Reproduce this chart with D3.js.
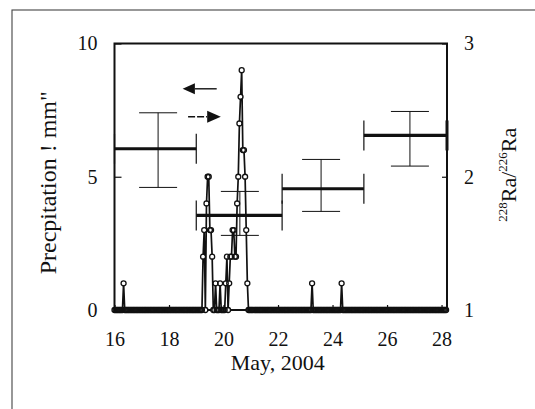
<!DOCTYPE html>
<html>
<head>
<meta charset="utf-8">
<script src="https://cdn.jsdelivr.net/npm/d3@7"></script>
<style>
  html, body { margin: 0; padding: 0; background: #fff; }
  svg { display: block; }
  text { font-family: "Liberation Serif", "Times New Roman", serif; fill: #111; }
</style>
</head>
<body>
<svg id="chart" width="535" height="409"></svg>
<script>
// Hourly precipitation (mm), starting May 16 00:00, one row per day
const rainStartDay = 16;
const rainHourly = [
  /* 16 */ 0,0,0,0,0,0,0,0,1,0,0,0,0,0,0,0,0,0,0,0,0,0,0,0,
  /* 17 */ 0,0,0,0,0,0,0,0,0,0,0,0,0,0,0,0,0,0,0,0,0,0,0,0,
  /* 18 */ 0,0,0,0,0,0,0,0,0,0,0,0,0,0,0,0,0,0,0,0,0,0,0,0,
  /* 19 */ 0,0,0,0,0,0,2,3,0,4,5,5,3,3,2,0,0,1,0,0,0,1,0,0,
  /* 20 */ 0,0,1,2,0,1,2,2,3,3,2,2,4,5,7,8,9,6,6,5,3,1,0,0,
  /* 21 */ 0,0,0,0,0,0,0,0,0,0,0,0,0,0,0,0,0,0,0,0,0,0,0,0,
  /* 22 */ 0,0,0,0,0,0,0,0,0,0,0,0,0,0,0,0,0,0,0,0,0,0,0,0,
  /* 23 */ 0,0,0,0,0,0,1,0,0,0,0,0,0,0,0,0,0,0,0,0,0,0,0,0,
  /* 24 */ 0,0,0,0,0,0,0,0,1,0,0,0,0,0,0,0,0,0,0,0,0,0,0,0,
  /* 25 */ 0,0,0,0,0,0,0,0,0,0,0,0,0,0,0,0,0,0,0,0,0,0,0,0,
  /* 26 */ 0,0,0,0,0,0,0,0,0,0,0,0,0,0,0,0,0,0,0,0,0,0,0,0,
  /* 27 */ 0,0,0,0,0,0,0,0,0,0,0,0,0,0,0,0,0,0,0,0,0,0,0,0,
  /* 28 */ 0,0,0,0,0
];

// 228Ra/226Ra activity ratio for each collection interval
const raStart = [16.0, 19.0, 22.15, 25.15];
const raEnd   = [19.0, 22.15, 25.15, 28.2];
const raRatio = [2.21, 1.71, 1.91, 2.31];
const raMid   = [17.6, 20.6, 23.58, 26.84];
const raHigh  = [2.48, 1.89, 2.13, 2.49];
const raLow   = [1.92, 1.56, 1.74, 2.08];

// Axis ticks
const dayTicks = [16, 18, 20, 22, 24, 26, 28];
const rainTicks = [0, 5, 10];
const ratioTicks = [1, 2, 3];

const xDomain = [16, 28.2];
const rainDomain = [0, 10];
const ratioDomain = [1, 3];

const FONT = '"Liberation Serif", "Times New Roman", serif';
const svg = d3.select("#chart");
const W = 535, H = 409;
const plot = { left: 114.5, right: 447, top: 43.5, bottom: 310 };

const x = d3.scaleLinear().domain(xDomain).range([plot.left, plot.right]);
const yRain = d3.scaleLinear().domain(rainDomain).range([plot.bottom, plot.top]);
const yRatio = d3.scaleLinear().domain(ratioDomain).range([plot.bottom, plot.top]);

// Page border
svg.append("rect")
  .attr("x", 12).attr("y", 10)
  .attr("width", W + 20).attr("height", H + 20)
  .attr("fill", "none").attr("stroke", "#444").attr("stroke-width", 1.1);

// Axes (ticks pointing inward)
const axisStyle = g => {
  g.attr("font-family", null);
  g.select(".domain").remove();
  g.selectAll("line").attr("stroke", "#111").attr("stroke-width", 1.2);
  g.selectAll("text").attr("font-size", 20).attr("fill", "#111")
    .style("font-family", FONT);
};

svg.append("g")
  .attr("transform", `translate(0,${plot.bottom})`)
  .call(d3.axisBottom(x).tickValues(dayTicks).tickFormat(d3.format("d"))
    .tickSizeInner(-5).tickSizeOuter(0).tickPadding(22))
  .call(axisStyle);

svg.append("g")
  .attr("transform", `translate(${plot.left},0)`)
  .call(d3.axisLeft(yRain).tickValues(rainTicks).tickFormat(d3.format("d"))
    .tickSizeInner(-7).tickSizeOuter(0).tickPadding(17))
  .call(axisStyle);

svg.append("g")
  .attr("transform", `translate(${plot.right},0)`)
  .call(d3.axisRight(yRatio).tickValues(ratioTicks).tickFormat(d3.format("d"))
    .tickSizeInner(-5).tickSizeOuter(0).tickPadding(17))
  .call(axisStyle);

// Plot frame
svg.append("rect")
  .attr("x", plot.left).attr("y", plot.top)
  .attr("width", plot.right - plot.left).attr("height", plot.bottom - plot.top)
  .attr("fill", "none").attr("stroke", "#111").attr("stroke-width", 2);

// Ra ratio: collection-interval bars with end marks and error bars
const ra = raStart.map((s, i) => ({
  s, e: raEnd[i], r: raRatio[i], m: raMid[i], hi: raHigh[i], lo: raLow[i]
}));
const gRa = svg.append("g").attr("stroke", "#111").attr("fill", "none");
const endHalf = 15, capHalf = 19;

gRa.selectAll(".bar").data(ra).join("line")
  .attr("x1", d => x(d.s)).attr("x2", d => x(d.e))
  .attr("y1", d => yRatio(d.r)).attr("y2", d => yRatio(d.r))
  .attr("stroke-width", 3.2);

gRa.selectAll(".endL").data(ra).join("line")
  .attr("x1", d => x(d.s)).attr("x2", d => x(d.s))
  .attr("y1", d => yRatio(d.r) - endHalf).attr("y2", d => yRatio(d.r) + endHalf)
  .attr("stroke-width", 1.2);

gRa.selectAll(".endR").data(ra).join("line")
  .attr("x1", d => x(d.e)).attr("x2", d => x(d.e))
  .attr("y1", d => yRatio(d.r) - endHalf).attr("y2", d => yRatio(d.r) + endHalf)
  .attr("stroke-width", d => d.e >= xDomain[1] ? 3 : 1.2);

gRa.selectAll(".err").data(ra).join("line")
  .attr("x1", d => x(d.m)).attr("x2", d => x(d.m))
  .attr("y1", d => yRatio(d.hi)).attr("y2", d => yRatio(d.lo))
  .attr("stroke-width", 1);

gRa.selectAll(".capHi").data(ra).join("line")
  .attr("x1", d => x(d.m) - capHalf).attr("x2", d => x(d.m) + capHalf)
  .attr("y1", d => yRatio(d.hi)).attr("y2", d => yRatio(d.hi))
  .attr("stroke-width", 1);

gRa.selectAll(".capLo").data(ra).join("line")
  .attr("x1", d => x(d.m) - capHalf).attr("x2", d => x(d.m) + capHalf)
  .attr("y1", d => yRatio(d.lo)).attr("y2", d => yRatio(d.lo))
  .attr("stroke-width", 1);

// Precipitation: line with open circles
const rain = rainHourly.map((v, i) => ({ t: rainStartDay + i / 24, v }));
svg.append("path")
  .datum(rain)
  .attr("fill", "none").attr("stroke", "#111").attr("stroke-width", 1.7)
  .attr("d", d3.line().x(d => x(d.t)).y(d => yRain(d.v)));

// white interiors hide the line inside each marker; rings are drawn on top
const gMarks = svg.append("g");
gMarks.selectAll(".fill").data(rain).join("circle")
  .attr("cx", d => x(d.t)).attr("cy", d => yRain(d.v))
  .attr("r", 2.0).attr("fill", "#fff");
gMarks.selectAll(".ring").data(rain).join("circle")
  .attr("cx", d => x(d.t)).attr("cy", d => yRain(d.v))
  .attr("r", 2.5)
  .attr("fill", "none").attr("stroke", "#111").attr("stroke-width", 1.3);

// Arrows pointing to each series' axis
const arrows = svg.append("g");
const leftArrowY = yRain(8.3);
arrows.append("line")
  .attr("x1", x(18.95)).attr("x2", x(19.75))
  .attr("y1", leftArrowY).attr("y2", leftArrowY)
  .attr("stroke", "#111").attr("stroke-width", 1.4);
arrows.append("path")
  .attr("d", `M${x(18.5)},${leftArrowY} L${x(18.95)},${leftArrowY - 5.5} L${x(18.95)},${leftArrowY + 5.5} Z`)
  .attr("fill", "#111");

const rightArrowY = yRatio(2.45);
arrows.append("line")
  .attr("x1", x(18.7)).attr("x2", x(19.4))
  .attr("y1", rightArrowY).attr("y2", rightArrowY)
  .attr("stroke", "#111").attr("stroke-width", 1.4)
  .attr("stroke-dasharray", "7,2");
arrows.append("path")
  .attr("d", `M${x(19.9)},${rightArrowY} L${x(19.4)},${rightArrowY - 6} L${x(19.4)},${rightArrowY + 6} Z`)
  .attr("fill", "#111");

// Axis titles
svg.append("text")
  .attr("x", (plot.left + plot.right) / 2 - 3).attr("y", 369.5)
  .attr("text-anchor", "middle").attr("font-size", 22)
  .style("font-family", FONT)
  .text("May, 2004");

svg.append("text")
  .attr("transform", `translate(56,${(plot.top + plot.bottom) / 2 + 6}) rotate(-90)`)
  .attr("text-anchor", "middle").attr("font-size", 24)
  .style("font-family", FONT)
  .text("Precpitation ! mm\"");

const rt = svg.append("text")
  .attr("transform", `translate(516,${(plot.top + plot.bottom) / 2 - 2}) rotate(-90)`)
  .attr("text-anchor", "middle").attr("font-size", 22)
  .style("font-family", FONT);
rt.append("tspan").attr("font-size", 13).attr("dy", -9).text("228");
rt.append("tspan").attr("dy", 9).text("Ra/");
rt.append("tspan").attr("font-size", 13).attr("dy", -9).text("226");
rt.append("tspan").attr("dy", 9).text("Ra");
</script>
</body>
</html>
